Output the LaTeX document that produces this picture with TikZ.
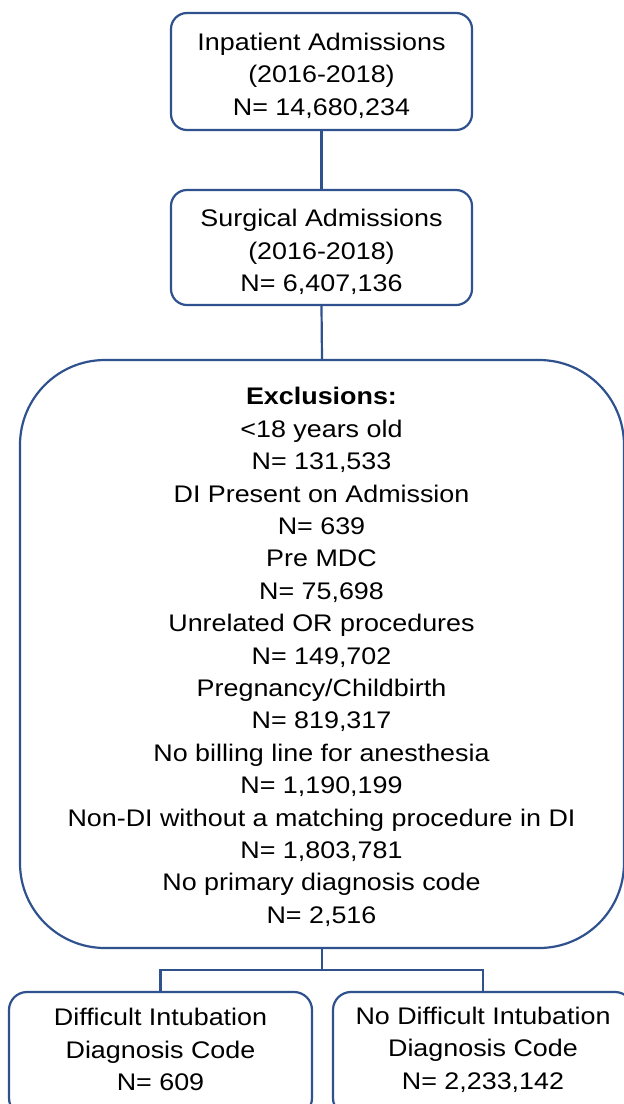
\documentclass[tikz,border=0pt]{standalone}
\usepackage{fontspec}
\setmainfont{Liberation Sans}[FakeStretch=1.12]
\definecolor{linec}{HTML}{2F528F}
\tikzset{
  boxshape/.style={draw=linec, line width=2.2pt, rounded corners=16pt, inner sep=0pt, fill=white},
  txt/.style={align=center, font=\fontsize{24}{32.4}\selectfont, inner sep=0pt, text=black},
  conn/.style={draw=linec, line width=2.2pt}
}
\begin{document}
\begin{tikzpicture}[x=1pt,y=-1pt]
\useasboundingbox (0,0) rectangle (624,1104);
\clip (0,0) rectangle (624,1104);
\fill[white] (0,0) rectangle (624,1104);
% boxes
\node[boxshape, minimum width=301pt, minimum height=117pt] (b1) at (321.5,71.5) {};
\node[boxshape, minimum width=301pt, minimum height=115pt] (b2) at (321.5,247.5) {};
\node[boxshape, rounded corners=85pt, minimum width=604pt, minimum height=588pt] (ex) at (322,654) {};
\node[boxshape, rounded corners=18pt, minimum width=303pt, minimum height=124pt] (bl) at (160.5,1054) {};
\node[boxshape, rounded corners=18pt, minimum width=300pt, minimum height=124pt] (br) at (483,1054) {};
% texts
\node[txt] (t1) at (321.5,75.5) {Inpatient Admissions\\(2016-2018)\\N= 14,680,234};
\node[txt] (t2) at (321.5,252) {Surgical Admissions\\(2016-2018)\\N= 6,407,136};
\node[txt] (tex) at (321.5,657) {\textbf{Exclusions:}\\<18 years old\\N= 131,533\\DI Present on Admission\\N= 639\\Pre MDC\\N= 75,698\\Unrelated OR procedures\\N= 149,702\\Pregnancy/Childbirth\\N= 819,317\\No billing line for anesthesia\\N= 1,190,199\\Non-DI without a matching procedure in DI\\N= 1,803,781\\No primary diagnosis code\\N= 2,516};
\node[txt] (tl) at (160.5,1049.5) {Difficult Intubation\\Diagnosis Code\\N= 609};
\node[txt] (tr) at (483,1049.5) {No Difficult Intubation\\Diagnosis Code\\N= 2,233,142};
% connectors
\draw[conn] (b1.south) -- (b2.north);
\draw[conn] (b2.south) -- (ex.north);
\path (ex.south) ++(0,21) coordinate (j);
\draw[conn] (ex.south) -- (j);
\draw[conn] (bl.north) |- (j) -| (br.north);
\end{tikzpicture}
\end{document}
